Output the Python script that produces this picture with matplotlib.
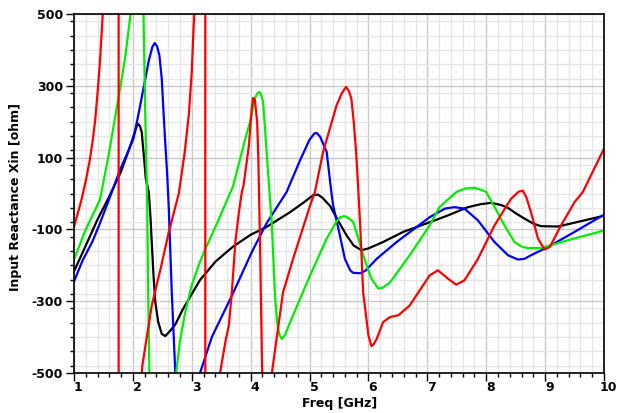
import matplotlib
matplotlib.use("Agg")
import matplotlib.pyplot as plt
import matplotlib.transforms as mtransforms
from matplotlib.ticker import MultipleLocator, FixedLocator

# ---- data ----
black_f = [1.0, 1.2, 1.4, 1.6, 1.8, 1.95, 2.02, 2.08, 2.12, 2.15, 2.18, 2.22, 2.27, 2.30, 2.32, 2.35,
           2.38, 2.43, 2.49, 2.55, 2.62, 2.72, 2.85, 3.0, 3.14, 3.4, 3.7, 4.0, 4.27, 4.67, 4.9, 5.06, 5.14,
           5.22, 5.35, 5.5, 5.63, 5.75, 5.88, 6.0, 6.25, 6.59, 7.04, 7.35, 7.69, 7.9, 8.08, 8.25, 8.37,
           8.5, 8.65, 8.8, 8.93, 9.22, 9.56, 10.0]
black_x = [-217, -145, -72, -8, 62, 130, 165, 195, 188, 171, 116, 41, 4, -70, -135, -228,
           -302, -358, -391, -397, -385, -365, -322, -280, -241, -190, -148, -115, -93, -52, -25, -5, -3,
           -12, -35, -80, -117, -145, -158, -153, -135, -107, -80, -61, -38, -30, -26, -32, -40,
           -55, -70, -84, -91, -92, -79, -62]

blue_f = [1.0, 1.15, 1.31, 1.44, 1.61, 1.78, 1.9, 2.01, 2.10, 2.20, 2.27, 2.33, 2.37, 2.41, 2.45, 2.49,
          2.52, 2.55, 2.58, 2.61, 2.66, 2.72, 2.75, 2.9, 3.05, 3.14, 3.34, 3.70, 4.02, 4.27, 4.61,
          4.84, 5.0, 5.08, 5.12, 5.18, 5.29, 5.37, 5.40, 5.49, 5.60, 5.69, 5.74, 5.86, 5.95, 6.14,
          6.48, 7.04, 7.30, 7.46, 7.63, 7.86, 8.14, 8.37, 8.54, 8.65, 8.76, 9.05, 9.50, 10.0]
blue_x = [-245, -185, -135, -83, -10, 65, 110, 153, 225, 310, 370, 408, 419, 410, 385, 320,
          227, 140, 60, -42, -275, -497, -600, -750, -620, -500, -400, -278, -163, -83, 4,
          93, 150, 167, 169, 158, 116, 4, -33, -98, -182, -214, -221, -222, -215, -182,
          -135, -66, -42, -38, -42, -75, -135, -172, -184, -182, -172, -149, -107, -59]

green_f = [1.0, 1.2, 1.44, 1.58, 1.72, 1.81, 1.87, 1.96, 2.03, 2.10, 2.16, 2.18, 2.21, 2.24, 2.26,
           2.28, 2.30, 2.5, 2.65, 2.74, 2.8, 2.89, 3.0, 3.14, 3.23, 3.45, 3.7, 3.91, 3.99, 4.07, 4.11,
           4.15, 4.18, 4.21, 4.24, 4.27, 4.32, 4.36, 4.41, 4.45, 4.49, 4.53, 4.58, 4.72, 5.01, 5.29,
           5.45, 5.52, 5.59, 5.66, 5.74, 5.82, 5.91, 6.05, 6.17, 6.25, 6.37, 6.70, 7.04, 7.21, 7.50,
           7.65, 7.80, 7.92, 8.0, 8.15, 8.31, 8.48, 8.6, 8.71, 8.93, 9.39, 10.0]
green_x = [-184, -100, -18, 100, 233, 320, 380, 500, 700, 800, 650, 500, 220, 4, -275,
           -497, -650, -900, -700, -492, -410, -330, -255, -190, -155, -75, 20, 153, 200, 264, 278,
           283, 275, 255, 190, 116, 4, -89, -275, -360, -395, -405, -395, -339, -228, -126,
           -80, -66, -63, -68, -79, -120, -172, -237, -265, -262, -247, -172, -89, -37, 5,
           14, 16, 10, 4, -40, -89, -135, -148, -152, -152, -130, -103]

red_f = [1.0, 1.07, 1.13, 1.2, 1.27, 1.32, 1.36, 1.40, 1.44, 1.49, 1.6, 1.757, 1.759, 1.9, 2.05, 2.16,
         2.32, 2.47, 2.61, 2.78, 2.88, 2.95, 3.0, 3.03, 3.06, 3.15, 3.229, 3.231, 3.35, 3.48, 3.57,
         3.63, 3.68, 3.74, 3.80, 3.85, 3.88, 3.97, 4.02, 4.04, 4.07, 4.11, 4.13, 4.16, 4.19, 4.22,
         4.3, 4.36, 4.44, 4.55, 4.72, 5.01, 5.09, 5.23, 5.46, 5.55, 5.62, 5.67, 5.71, 5.75, 5.79,
         5.83, 5.86, 5.91, 6.0, 6.05, 6.09, 6.14, 6.25, 6.37, 6.51, 6.70, 7.04, 7.18, 7.35, 7.49,
         7.63, 7.86, 8.14, 8.42, 8.55, 8.62, 8.68, 8.76, 8.88, 8.99, 9.08, 9.27, 9.50, 9.64, 10.0]
red_x = [-92, -52, -15, 35, 95, 150, 205, 280, 365, 505, 1200, 6000, -6000, -1500, -750, -480,
         -312, -210, -107, 0, 115, 220, 340, 460, 540, 1200, 6000, -6000, -1200, -500, -414,
         -367, -275, -135, -52, 4, 23, 134, 240, 266, 262, 200, 100, -150, -450, -700,
         -800, -500, -405, -275, -182, -33, 4, 116, 246, 280, 297, 285, 264, 200, 116,
         4, -89, -275, -395, -425, -420, -405, -358, -344, -339, -312, -228, -214, -237, -254,
         -242, -182, -89, -15, 5, 8, -10, -52, -126, -156, -149, -89, -24, 4, 125]

x_ticks = [1, 2, 3, 4, 5, 6, 7, 8, 9, 10]
y_ticks = [-500, -300, -100, 100, 300, 500]

plt.rcParams['font.family'] = ['DejaVu Sans']

fig = plt.figure(figsize=(6.17, 4.13), dpi=100)
ax = fig.add_axes([74/617, 1 - 373/413, 530/617, 359/413])

ax.set_xlim(1, 10)
ax.set_ylim(-500, 500)

ax.xaxis.set_major_locator(FixedLocator(x_ticks))
ax.xaxis.set_minor_locator(MultipleLocator(0.2))
ax.yaxis.set_major_locator(FixedLocator(y_ticks))
ax.yaxis.set_minor_locator(MultipleLocator(40))

ax.grid(which='minor', color='#e6e6e6', linewidth=1.0)
ax.grid(which='major', color='#c8c8c8', linewidth=1.0)
ax.set_axisbelow(True)

lw = 1.6
ax.plot(black_f, black_x, color='black', lw=lw)
ax.plot(blue_f, blue_x, color='#0000ff', lw=lw)
ax.plot(green_f, green_x, color='#00ee00', lw=lw)
ax.plot(red_f, red_x, color='#ff0000', lw=lw)

for s in ax.spines.values():
    s.set_color('black')
    s.set_linewidth(1.2)

ax.tick_params(which='major', direction='out', length=6, width=1, color='black')
ax.tick_params(which='minor', direction='out', length=3, width=1, color='black')
ax.tick_params(axis='y', which='major', pad=2, labelsize=9)
ax.tick_params(axis='x', which='major', pad=0, labelsize=9)

xl = ax.set_xticklabels([str(t) for t in x_ticks], fontweight='bold', ha='left')
ax.set_yticklabels([str(t) for t in y_ticks], fontweight='bold')
# keep the last x label inside the canvas
xl[-1].set_transform(xl[-1].get_transform() +
                     mtransforms.ScaledTranslation(-4/100, 0, fig.dpi_scale_trans))

ax.set_xlabel('Freq [GHz]', fontsize=9, fontweight='bold')
ax.set_ylabel('Input Reactance Xin [ohm]', fontsize=9, fontweight='bold')
ax.xaxis.set_label_coords(0.502, -0.068)
ax.yaxis.set_label_coords(-0.099, 0.49)

fig.savefig('out.png', dpi=100)
